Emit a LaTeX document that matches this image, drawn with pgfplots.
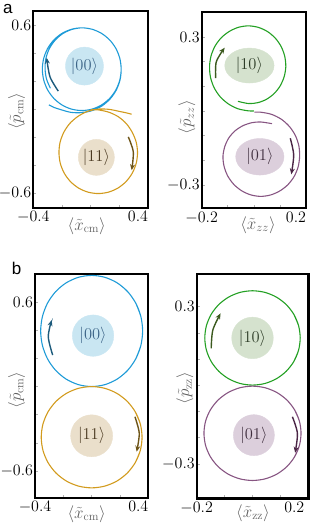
\RequirePackage{fix-cm}
\documentclass[border=0pt]{standalone}
\usepackage{fontspec}
\newfontfamily\labfont{Liberation Sans}
\usepackage{pgfplots}
\pgfplotsset{compat=1.18}
\usetikzlibrary{arrows.meta}
\definecolor{cblue}{RGB}{30,155,215}
\definecolor{cgold}{RGB}{210,155,30}
\definecolor{cgreen}{RGB}{35,160,35}
\definecolor{cpurple}{RGB}{135,85,130}
\definecolor{fblue}{RGB}{201,230,242}
\definecolor{fgold}{RGB}{234,223,203}
\definecolor{fgreen}{RGB}{213,226,206}
\definecolor{fpurple}{RGB}{220,207,220}
\definecolor{ablue}{RGB}{29,91,124}
\definecolor{agold}{RGB}{110,85,24}
\definecolor{agreen}{RGB}{60,90,31}
\definecolor{apurple}{RGB}{74,37,69}
\definecolor{tblue}{RGB}{60,100,135}
\definecolor{tgold}{RGB}{75,58,34}
\definecolor{tgreen}{RGB}{46,61,40}
\definecolor{tpurple}{RGB}{63,46,62}
\definecolor{labgray}{RGB}{95,95,95}
\tikzset{lab/.style={font=\fontsize{17}{19}\selectfont, text=labgray, anchor=center}}
\pgfplotsset{
  panel/.style={
    scale only axis, anchor=south west,
    axis line style={line width=2.4pt, black},
    tick pos=left, tick align=inside,
    major tick length=3pt,
    tick style={gray!60, line width=0.6pt},
    tick label style={font=\fontsize{16}{18}\selectfont, black},
    yticklabel style={inner sep=1.8pt},
  },
  traj/.style={smooth, line width=1.1pt, no markers},
  arr/.style={smooth, line width=1.4pt, no markers, -{Stealth[length=6pt,width=5pt]}},
  blob/.style n args={3}{only marks, mark=*, mark options={draw=#1, fill=#1},
     nodes near coords={#3},
     every node near coord/.style={anchor=center, inner sep=0pt, font=\fontsize{16.5}{18}\selectfont, text=#2}},
}
\begin{document}
\begin{tikzpicture}
\useasboundingbox (0,0) rectangle (312pt,527pt);
\node[anchor=base west, font=\labfont\fontsize{17}{17}\selectfont, inner sep=0pt] at (3pt,513.7pt) {a};
\node[anchor=base west, font=\labfont\fontsize{17}{17}\selectfont, inner sep=0pt] at (11.7pt,252pt) {b};

% ---------- panel a, left ----------
\begin{axis}[panel, at={(33.3pt,319pt)}, width=114.7pt, height=197pt,
  xmin=-0.4, xmax=0.4, ymin=-0.705, ymax=0.7,
  xtick={-0.4,-0.2,0,0.2,0.4}, xticklabels={$-0.4$,,,,\llap{$0.4$}},
  ytick={-0.6,-0.4,-0.2,0,0.2,0.4,0.6}, yticklabels={$-0.6$,,,,,,$0.6$},
  xlabel={$\langle\tilde{x}_{\mathrm{cm}}\rangle$}, ylabel={$\langle\tilde{p}_{\mathrm{cm}}\rangle$},
  xlabel style={lab, at={(axis description cs:0.466,-0.091)}},
  ylabel style={lab, at={(axis description cs:-0.146,0.49)}}]
\addplot[blob={fblue}{tblue}{$|00\rangle$}, mark size=19pt] coordinates {(-0.043,0.307)};
\addplot[blob={fgold}{tgold}{$|11\rangle$}, mark size=18pt] coordinates {(0.04,-0.344)};
\addplot[traj, cblue] coordinates {(-0.2811,0.1493) (-0.3077,0.2144) (-0.3178,0.285) (-0.313,0.3572) (-0.2906,0.4266) (-0.251,0.4877) (-0.1974,0.5367) (-0.1327,0.5679) (-0.062,0.58) (0.0092,0.5699) (0.0755,0.5405) (0.1325,0.4936) (0.1762,0.4325) (0.2036,0.3613) (0.213,0.285) (0.2036,0.2087) (0.1762,0.1375) (0.1325,0.0764) (0.0755,0.0295) (0.0092,0.0001) (-0.062,-0.01) (-0.1332,0.0001) (-0.1995,0.0295) (-0.2565,0.0764) (-0.3002,0.1375) (-0.3276,0.2087) (-0.337,0.285) (-0.3276,0.3613) (-0.3002,0.4325) (-0.2565,0.4936) (-0.1995,0.5405) (-0.1332,0.5699) (-0.062,0.58) (0.0092,0.5699) (0.0755,0.5405) (0.1325,0.4936) (0.1762,0.4325) (0.2036,0.3613) (0.213,0.285) (0.205,0.2083) (0.1786,0.136) (0.1358,0.0729) (0.079,0.0231) (0.0117,-0.0099) (-0.062,-0.0248) (-0.1389,-0.0227) (-0.216,-0.0011) (-0.254,0.0117) (-0.2913,0.0304)};
\addplot[traj, cgold] coordinates {(0.0021,-0.0044) (0.053,-0.0054) (0.126,-0.0215) (0.1927,-0.0539) (0.2487,-0.1032) (0.2903,-0.1655) (0.3177,-0.2357) (0.327,-0.311) (0.3177,-0.3863) (0.2903,-0.4565) (0.2467,-0.5168) (0.19,-0.563) (0.1239,-0.5921) (0.053,-0.602) (-0.0179,-0.5921) (-0.084,-0.563) (-0.1407,-0.5168) (-0.1843,-0.4565) (-0.2117,-0.3863) (-0.221,-0.311) (-0.213,-0.2353) (-0.1867,-0.164) (-0.1446,-0.1011) (-0.0881,-0.0514) (-0.0215,-0.0158) (0.053,0.0004) (0.131,-0.0018) (0.2119,-0.0187) (0.2479,-0.0261) (0.2858,-0.0364)};
\addplot[arr, ablue] coordinates {(-0.2257,0.1286) (-0.2835,0.2307) (-0.3066,0.3664)};
\addplot[arr, agold] coordinates {(0.2625,-0.1979) (0.2974,-0.305) (0.2862,-0.4357)};
\end{axis}

% ---------- panel a, right ----------
\begin{axis}[panel, at={(201.7pt,318.7pt)}, width=104.3pt, height=196pt,
  xmin=-0.2, xmax=0.2, ymin=-0.395, ymax=0.4,
  xtick={-0.2,-0.1,0,0.1,0.2}, xticklabels={$-0.2$,,,,\llap{$0.2$}},
  ytick={-0.3,-0.2,-0.1,0,0.1,0.2,0.3}, yticklabels={$-0.3$,,,,,,$0.3$},
  xlabel={$\langle\tilde{x}_{zz}\rangle$}, ylabel={$\langle\tilde{p}_{zz}\rangle$},
  xlabel style={lab, at={(axis description cs:0.54,-0.085)}},
  ylabel style={lab, at={(axis description cs:-0.141,0.466)}}]
\addplot[blob={fgreen}{tgreen}{$|10\rangle$}, mark size=17.5pt, every mark/.append style={xscale=1.41}] coordinates {(-0.017,0.184)};
\addplot[blob={fpurple}{tpurple}{$|01\rangle$}, mark size=18.3pt, every mark/.append style={xscale=1.32}] coordinates {(0.023,-0.186)};
\addplot[traj, cgreen] coordinates {(-0.0003,-0.0001) (-0.02,0.0001) (-0.0609,0.0087) (-0.0979,0.0285) (-0.1292,0.0575) (-0.1524,0.0942) (-0.1662,0.136) (-0.1699,0.18) (-0.1641,0.2233) (-0.1486,0.2633) (-0.1245,0.2973) (-0.0935,0.3229) (-0.058,0.3394) (-0.02,0.345) (0.0179,0.3386) (0.0528,0.3215) (0.0824,0.2949) (0.1048,0.2609) (0.1184,0.2216) (0.1226,0.18) (0.1163,0.139) (0.101,0.1016) (0.0777,0.0703) (0.0484,0.0471) (0.015,0.0334) (-0.02,0.0298) (-0.0609,0.0388)};
\addplot[traj, cpurple] coordinates {(0.0025,-0.0053) (0.0255,-0.0051) (0.0672,-0.0137) (0.105,-0.0335) (0.1363,-0.0631) (0.1593,-0.1) (0.1726,-0.1417) (0.1755,-0.185) (0.1697,-0.2275) (0.1541,-0.2667) (0.13,-0.2999) (0.099,-0.325) (0.0635,-0.3412) (0.0255,-0.3467) (-0.0124,-0.3404) (-0.0473,-0.3236) (-0.0771,-0.2978) (-0.0999,-0.2646) (-0.1139,-0.2261) (-0.1185,-0.185) (-0.1115,-0.1447) (-0.0953,-0.1083) (-0.0705,-0.0794) (-0.0405,-0.0593) (-0.0079,-0.0479) (0.0255,-0.0448) (0.0696,-0.0517)};
\addplot[arr, agreen] coordinates {(-0.1463,0.1329) (-0.144,0.1992) (-0.1118,0.2565)};
\addplot[arr, apurple] coordinates {(0.1398,-0.111) (0.1528,-0.1789) (0.1436,-0.2573)};
\end{axis}

% ---------- panel b, left ----------
\begin{axis}[panel, at={(35pt,29pt)}, width=113.3pt, height=224pt,
  xmin=-0.4, xmax=0.4, ymin=-0.792, ymax=0.8,
  xtick={-0.4,-0.2,0,0.2,0.4}, xticklabels={$-0.4$,,,,\llap{$0.4$}},
  ytick={-0.6,-0.4,-0.2,0,0.2,0.4,0.6}, yticklabels={$-0.6$,,,,,,$0.6$},
  xlabel={$\langle\tilde{x}_{\mathrm{cm}}\rangle$}, ylabel={$\langle\tilde{p}_{\mathrm{cm}}\rangle$},
  xlabel style={lab, at={(axis description cs:0.456,-0.071)}},
  ylabel style={lab, at={(axis description cs:-0.163,0.482)}}]
\addplot[blob={fblue}{tblue}{$|00\rangle$}, mark size=20.7pt] coordinates {(0.01,0.362)};
\addplot[blob={fgold}{tgold}{$|11\rangle$}, mark size=21pt] coordinates {(0.0,-0.35)};
\addplot[traj, cblue] coordinates {(0.3118,0.1975) (0.3477,0.2928) (0.36,0.395) (0.3477,0.4972) (0.3118,0.5925) (0.2546,0.6743) (0.18,0.7371) (0.0932,0.7765) (0,0.79) (-0.0932,0.7765) (-0.18,0.7371) (-0.2546,0.6743) (-0.3118,0.5925) (-0.3477,0.4972) (-0.36,0.395) (-0.3477,0.2928) (-0.3118,0.1975) (-0.2546,0.1157) (-0.18,0.0529) (-0.0932,0.0135) (0,0) (0.0932,0.0135) (0.18,0.0529) (0.2546,0.1157) (0.3118,0.1975) (0.3477,0.2928) (0.36,0.395) (0.3477,0.4972) (0.3118,0.5925)};
\addplot[traj, cgold] coordinates {(0.3083,-0.54) (0.3439,-0.4532) (0.356,-0.36) (0.3439,-0.2668) (0.3083,-0.18) (0.2517,-0.1054) (0.178,-0.0482) (0.0921,-0.0123) (0,0) (-0.0921,-0.0123) (-0.178,-0.0482) (-0.2517,-0.1054) (-0.3083,-0.18) (-0.3439,-0.2668) (-0.356,-0.36) (-0.3439,-0.4532) (-0.3083,-0.54) (-0.2517,-0.6146) (-0.178,-0.6718) (-0.0921,-0.7077) (0,-0.72) (0.0921,-0.7077) (0.178,-0.6718) (0.2517,-0.6146) (0.3083,-0.54) (0.3439,-0.4532) (0.356,-0.36) (0.3439,-0.2668) (0.3083,-0.18)};
\addplot[arr, ablue] coordinates {(-0.2751,0.2237) (-0.3062,0.3537) (-0.2822,0.4723)};
\addplot[arr, agold] coordinates {(0.3057,-0.2145) (0.3361,-0.3324) (0.3177,-0.4631)};
\end{axis}

% ---------- panel b, right ----------
\begin{axis}[panel, at={(196.7pt,28.7pt)}, width=111.6pt, height=224.3pt,
  xmin=-0.2, xmax=0.2, ymin=-0.431, ymax=0.425,
  xtick={-0.2,-0.1,0,0.1,0.2}, xticklabels={$-0.2$,,,,\llap{$0.2$\hspace{4pt}}},
  ytick={-0.3,-0.2,-0.1,0,0.1,0.2,0.3}, yticklabels={$-0.3$,,,,,,$0.3$},
  xlabel={$\langle\tilde{x}_{\mathrm{zz}}\rangle$}, ylabel={$\langle\tilde{p}_{\mathrm{zz}}\rangle$},
  xlabel style={lab, at={(axis description cs:0.504,-0.066)}},
  ylabel style={lab, at={(axis description cs:-0.105,0.492)}}]
\addplot[blob={fgreen}{tgreen}{$|10\rangle$}, mark size=20.8pt] coordinates {(0,0.181)};
\addplot[blob={fpurple}{tpurple}{$|01\rangle$}, mark size=20.5pt] coordinates {(0.005,-0.19)};
\addplot[traj, cgreen] coordinates {(0.1481,0.091) (0.1652,0.1344) (0.171,0.181) (0.1652,0.2276) (0.1481,0.271) (0.1209,0.3083) (0.0855,0.3369) (0.0443,0.3549) (0,0.361) (-0.0443,0.3549) (-0.0855,0.3369) (-0.1209,0.3083) (-0.1481,0.271) (-0.1652,0.2276) (-0.171,0.181) (-0.1652,0.1344) (-0.1481,0.091) (-0.1209,0.0537) (-0.0855,0.0251) (-0.0443,0.0071) (0,0.001) (0.0443,0.0071) (0.0855,0.0251) (0.1209,0.0537) (0.1481,0.091) (0.1652,0.1344) (0.171,0.181) (0.1652,0.2276) (0.1481,0.271)};
\addplot[traj, cpurple] coordinates {(0.1507,-0.273) (0.1681,-0.2296) (0.174,-0.183) (0.1681,-0.1364) (0.1507,-0.093) (0.123,-0.0557) (0.087,-0.0271) (0.045,-0.0091) (0,-0.003) (-0.045,-0.0091) (-0.087,-0.0271) (-0.123,-0.0557) (-0.1507,-0.093) (-0.1681,-0.1364) (-0.174,-0.183) (-0.1681,-0.2296) (-0.1507,-0.273) (-0.123,-0.3103) (-0.087,-0.3389) (-0.045,-0.3569) (0,-0.363) (0.045,-0.3569) (0.087,-0.3389) (0.123,-0.3103) (0.1507,-0.273) (0.1681,-0.2296) (0.174,-0.183) (0.1681,-0.1364) (0.1507,-0.093)};
\addplot[arr, agreen] coordinates {(-0.148,0.1412) (-0.1422,0.2111) (-0.1144,0.2748)};
\addplot[arr, apurple] coordinates {(0.143,-0.1198) (0.161,-0.1832) (0.1527,-0.2573)};
\end{axis}
\end{tikzpicture}
\end{document}
